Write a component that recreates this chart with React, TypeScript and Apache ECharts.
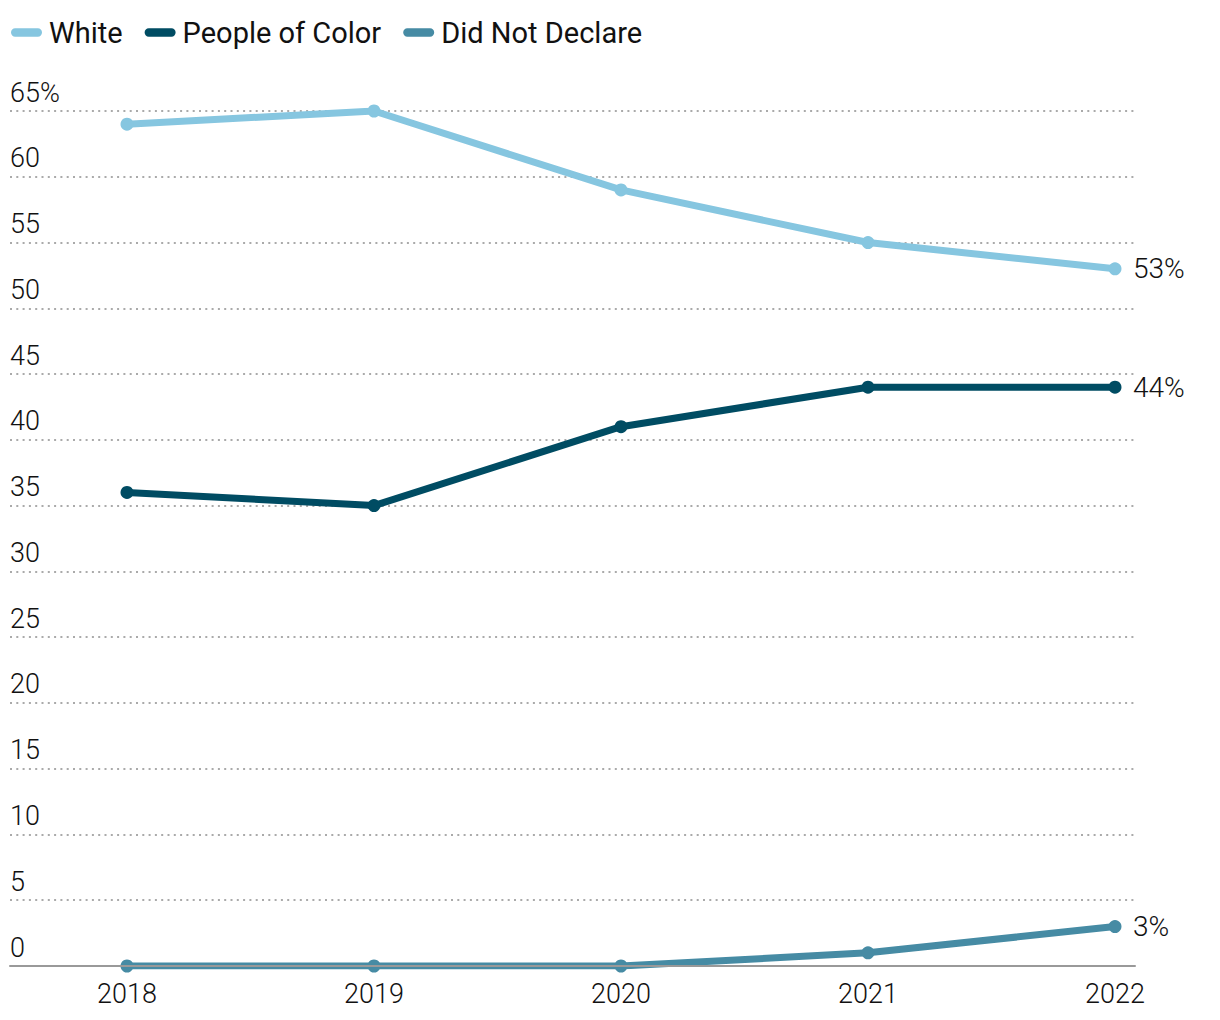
import React, { useEffect, useRef } from "react";
import * as echarts from "echarts";

const years = ["2018", "2019", "2020", "2021", "2022"];
const white = [64, 65, 59, 55, 53];
const peopleOfColor = [36, 35, 41, 44, 44];
const didNotDeclare = [0, 0, 0, 1, 3];
const seriesNames = ["White", "People of Color", "Did Not Declare"];
const seriesColors = ["#86c6e0", "#004c63", "#468ba4"];

const FONT = "Roboto, 'Liberation Sans', Arial, sans-serif";
const pillIcon = "path://M4,0 H26 A4,4 0 0 1 26,8 H4 A4,4 0 0 1 4,0 Z";

export default function App() {
  const ref = useRef<HTMLDivElement>(null);
  useEffect(() => {
    if (!ref.current) return;
    const chart = echarts.init(ref.current, null, { renderer: "svg" });
    const values = [white, peopleOfColor, didNotDeclare];
    const gridTop = 111;
    const gridBottom = 54;
    chart.setOption({
      animation: false,
      backgroundColor: "#ffffff",
      textStyle: { fontFamily: FONT },
      legend: {
        left: 6,
        top: 13,
        itemWidth: 31,
        itemHeight: 9,
        itemGap: 22,
        icon: pillIcon,
        textStyle: { fontSize: 29, color: "#111", fontFamily: FONT, padding: [0, 0, 0, 2] },
        data: seriesNames.map((n, i) => ({ name: n, itemStyle: { color: seriesColors[i] } })),
      },
      grid: [
        { left: 10, right: 85, top: gridTop, bottom: gridBottom, containLabel: false },
        { left: 127, right: 105, top: gridTop, bottom: gridBottom, containLabel: false },
      ],
      xAxis: [
        {
          gridIndex: 0,
          type: "value",
          min: 0,
          max: 1,
          axisLine: { show: true, lineStyle: { color: "#999999", width: 2 } },
          axisTick: { show: false },
          axisLabel: { show: false },
          splitLine: { show: false },
          z: 10,
        },
        {
          gridIndex: 1,
          type: "category",
          data: years,
          boundaryGap: false,
          axisLine: { show: false },
          axisTick: { show: false },
          axisLabel: { fontSize: 27, color: "#111", margin: 14, fontFamily: FONT, fontWeight: 300 },
          splitLine: { show: false },
        },
      ],
      yAxis: [
        {
          gridIndex: 0,
          type: "value",
          min: 0,
          max: 65,
          interval: 5,
          axisLine: { show: false },
          axisTick: { show: false },
          axisLabel: {
            inside: true,
            margin: 0,
            fontSize: 27,
            color: "#111",
            fontFamily: FONT,
            fontWeight: 300,
            verticalAlign: "bottom",
            padding: [0, 0, 5, 0],
            formatter: (v: number) => (v === 65 ? "65%" : String(v)),
          },
          splitLine: { show: true, lineStyle: { color: "#aaaaaa", width: 2, type: [2, 4.3] } },
        },
        {
          gridIndex: 1,
          type: "value",
          min: 0,
          max: 65,
          show: false,
          splitLine: { show: false },
        },
      ],
      series: seriesNames.map((name, i) => ({
        name,
        type: "line",
        xAxisIndex: 1,
        yAxisIndex: 1,
        data: values[i],
        color: seriesColors[i],
        symbol: "circle",
        symbolSize: 13,
        showSymbol: true,
        lineStyle: { width: 7, color: seriesColors[i] },
        itemStyle: { color: seriesColors[i] },
        endLabel: {
          show: true,
          distance: 18,
          formatter: (p: any) => `${p.value}%`,
          fontSize: 28,
          color: "#111",
          fontFamily: FONT,
          fontWeight: 300,
        },
        z: 3,
      })),
    });
    return () => chart.dispose();
  }, []);
  return (
    <div
      ref={ref}
      style={{ position: "absolute", left: 0, top: 0, width: 1220, height: 1020 }}
    />
  );
}
